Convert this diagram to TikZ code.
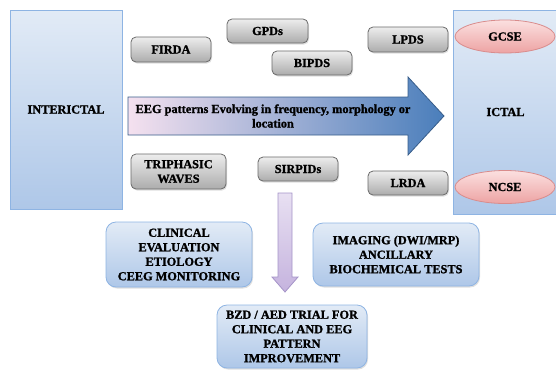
\documentclass[tikz,border=0pt]{standalone}
\usepackage{fontspec}
\setmainfont[BoldFeatures={FakeBold=1.3}]{Liberation Serif}
\usetikzlibrary{shapes.geometric,shadows}
\definecolor{grayedge}{HTML}{6A6A6A}
\definecolor{graytop}{HTML}{EDEDED}
\definecolor{graybot}{HTML}{ACACAC}
\definecolor{blueedge}{HTML}{8EB4E3}
\definecolor{bluetop}{HTML}{E2EBF6}
\definecolor{bluebot}{HTML}{AEC7E8}
\definecolor{pinkedge}{HTML}{D98C8C}
\definecolor{pinktop}{HTML}{FBE0E0}
\definecolor{pinkbot}{HTML}{EDA3A3}
\definecolor{arrowleft}{HTML}{F5E1EF}
\definecolor{arrowright}{HTML}{4A7EBB}
\definecolor{arrowedge}{HTML}{385D8A}
\definecolor{lavtop}{HTML}{E8E0F2}
\definecolor{lavbot}{HTML}{C5B3DE}
\definecolor{lavedge}{HTML}{A594C8}
\tikzset{
  txt/.style={font=\bfseries\fontsize{12.3}{14.5}\selectfont, align=center, inner sep=0pt},
  graybox/.style={txt, draw=grayedge, line width=0.8pt, rounded corners=5pt,
    top color=graytop, bottom color=graybot,
    drop shadow={opacity=0.25, shadow xshift=1pt, shadow yshift=-1.5pt}},
  panel/.style={txt, draw=blueedge, line width=0.8pt, top color=bluetop, bottom color=bluebot},
  bluebox/.style={txt, draw=blueedge, line width=0.8pt, rounded corners=10pt,
    top color=bluetop, bottom color=bluebot,
    drop shadow={opacity=0.25, shadow xshift=1pt, shadow yshift=-1.5pt}},
  seizure/.style={txt, ellipse, draw=pinkedge, line width=0.8pt, top color=pinktop, bottom color=pinkbot},
}
\begin{document}
\begin{tikzpicture}[x=1pt,y=-1pt]
\useasboundingbox (0,0) rectangle (556,370);
% side panels
\node[panel, minimum width=112pt, minimum height=199pt] (inter) at (66,109.5) {INTERICTAL};
\node[panel, minimum width=105pt, minimum height=204pt] (ictal) at (505.5,112) {ICTAL};
\node[seizure, minimum width=100pt, minimum height=33pt] (gcse) at (505,36.5) {GCSE};
\node[seizure, minimum width=100pt, minimum height=33pt] (ncse) at (505,187) {NCSE};
% big arrow
\path[draw=arrowedge, line width=0.8pt, left color=arrowleft, right color=arrowright]
  (128,97) -- (408,97) -- (408,77) -- (444,116) -- (408,155) -- (408,135) -- (128,135) -- cycle;
\node[txt] (evo) at (273,116) {EEG patterns Evolving in frequency, morphology or\\location};
% gray pattern boxes
\node[graybox, minimum width=80pt, minimum height=25pt] (firda) at (171,49.5) {FIRDA};
\node[graybox, minimum width=81pt, minimum height=24pt] (gpds) at (267.5,31) {GPDs};
\node[graybox, minimum width=80pt, minimum height=24pt] (bipds) at (312,63) {BIPDS};
\node[graybox, minimum width=80pt, minimum height=25pt] (lpds) at (408,39.5) {LPDS};
\node[graybox, minimum width=95pt, minimum height=35pt] (tri) at (178.5,171.5) {TRIPHASIC\\WAVES};
\node[graybox, minimum width=80pt, minimum height=24pt] (sirpids) at (298,169) {SIRPIDs};
\node[graybox, minimum width=80pt, minimum height=24pt] (lrda) at (408,183) {LRDA};
% down arrow
\path[draw=lavedge, line width=0.8pt, top color=lavtop, bottom color=lavbot]
  (278,193) -- (292,193) -- (292,277) -- (298,277) -- (285,292) -- (272,277) -- (278,277) -- cycle;
% lower boxes
\node[bluebox, minimum width=146pt, minimum height=65pt] (clin) at (179,254.5) {CLINICAL\\EVALUATION\\ETIOLOGY\\CEEG MONITORING};
\node[bluebox, minimum width=166pt, minimum height=63pt] (img) at (396,254.5) {IMAGING (DWI/MRP)\\ANCILLARY\\BIOCHEMICAL TESTS};
\node[bluebox, minimum width=150pt, minimum height=63pt] (bzd) at (292,336.5) {BZD / AED TRIAL FOR\\CLINICAL AND EEG\\PATTERN\\IMPROVEMENT};
\end{tikzpicture}
\end{document}
